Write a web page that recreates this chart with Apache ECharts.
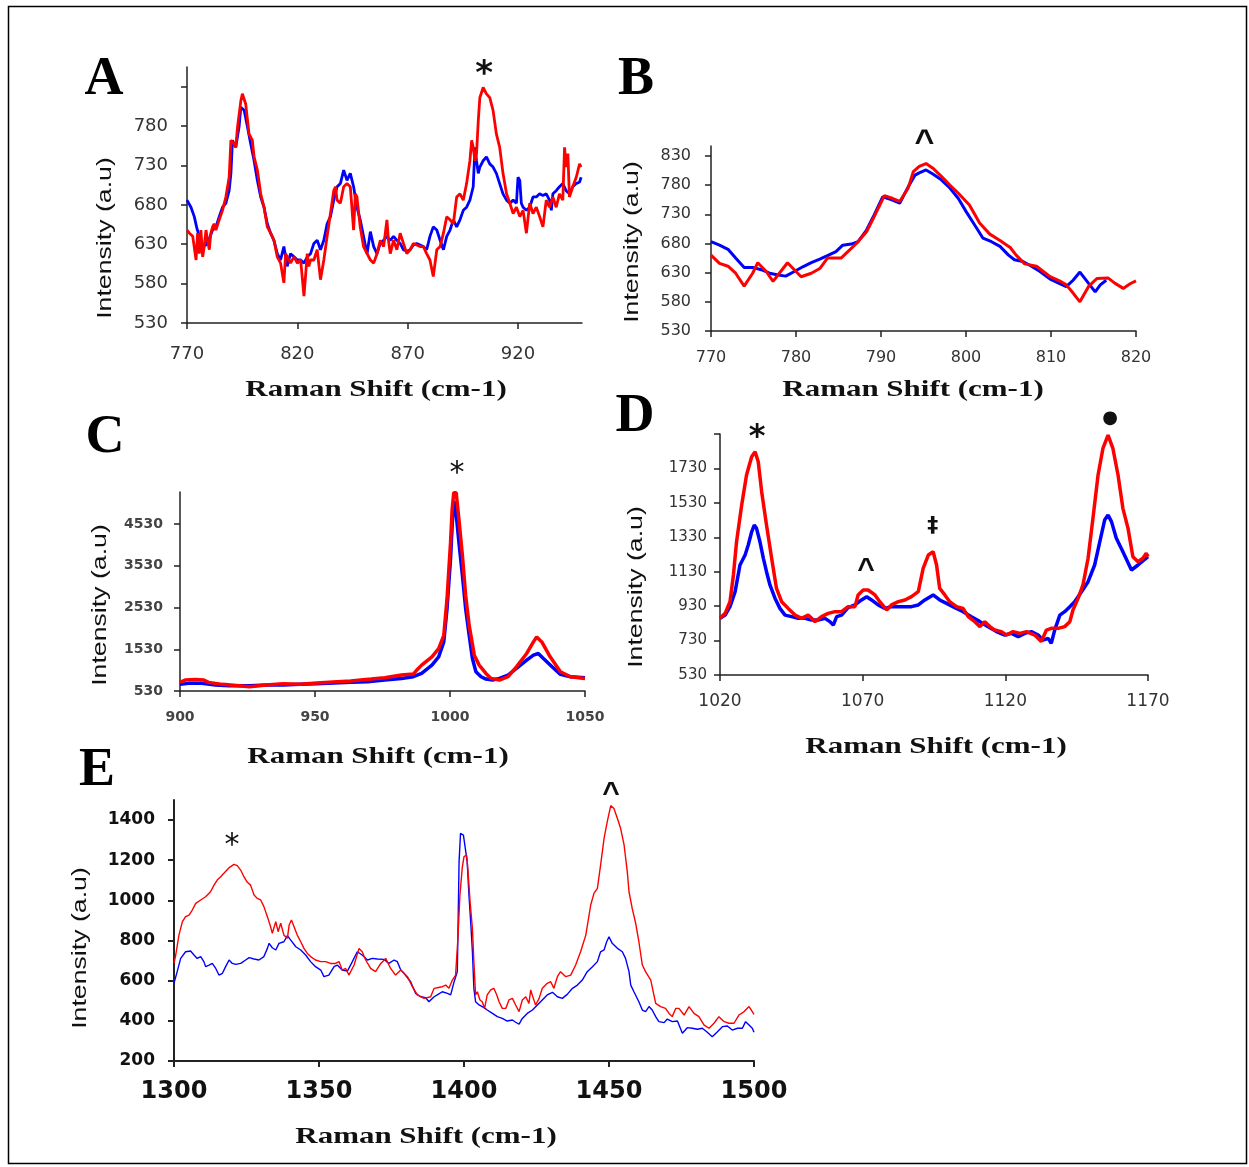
<!DOCTYPE html>
<html><head><meta charset="utf-8">
<script src="https://cdn.jsdelivr.net/npm/echarts/dist/echarts.min.js"></script>
<style>html,body{margin:0;padding:0;background:#fff}#c{width:1249px;height:1167px}</style>
</head><body><div id="c"></div><script>
// ---------- DATA (Raman shift cm-1, intensity a.u.) ----------
const aBlue=[[770,686],[771.8,677],[773.3,665],[774.5,650],[775.6,640],[777.1,627],[778.6,629],[780.1,637],[781.6,648],[783.1,652],[784.6,665],[786.1,677],[787.6,682],[789.1,698],[789.9,720],[790.6,762],[792.1,753],[793.6,779],[794.4,804],[795.9,800],[797.4,779],[798.9,757],[800.4,736],[801.9,711],[803.4,690],[804.9,677],[806.4,656],[807.9,644],[809.4,635],[810.9,618],[812.4,610],[813.9,627],[815.4,602],[816.9,618],[818.5,614],[820,610],[821.5,610],[823,606],[824.5,614],[826,618],[827.5,631],[829,635],[830.5,623],[832,635],[833.5,656],[835,665],[836.5,686],[838,703],[839.5,707],[841,724],[842.5,711],[844,720],[845.5,703],[847,677],[848.5,661],[850,640],[851.6,618],[853.1,646],[854.6,627],[856.1,618],[857.6,631],[859.1,635],[860.6,640],[862.1,635],[863.6,640],[865.1,635],[866.6,631],[868.1,623],[869.6,621],[871.1,623],[872.6,629],[874.1,631],[875.6,629],[877.1,627],[878.6,623],[880.1,640],[881.6,652],[883.2,648],[884.7,635],[886.2,623],[887.7,640],[889.2,648],[890.7,661],[892.2,652],[893.7,661],[895.2,673],[896.7,677],[898.2,686],[899.7,703],[900.5,753],[901.2,736],[902,720],[902.7,728],[904.2,736],[905.7,741],[907.2,732],[908.7,728],[910.2,720],[911.7,707],[913.2,694],[914.8,686],[916.3,682],[917.8,686],[919.3,682],[920,715],[920.8,711],[921.5,682],[922.3,677],[923.8,673],[925.3,677],[926.8,690],[928.3,690],[929.8,694],[931.3,692],[932.8,694],[934.3,686],[935.1,673],[935.8,694],[937.3,698],[938.8,703],[940.3,707],[941.8,698],[943.3,694],[944.8,703],[946.4,707],[947.9,709],[948.6,715]];
const aRed=[[770,648],[771.1,644],[772.6,640],[774.1,610],[774.8,644],[775.6,618],[776.3,648],[777.1,614],[777.8,627],[778.6,648],[779.3,635],[780.1,623],[780.8,644],[781.6,652],[782.3,656],[783.1,648],[784.6,661],[786.1,673],[787.6,690],[789.1,715],[789.9,762],[791.4,757],[792.1,753],[792.9,779],[794.4,812],[795.1,821],[796.6,808],[798.1,770],[799.6,762],[800.4,741],[801.9,724],[803.4,694],[804.9,677],[806.4,652],[807.9,644],[809.4,635],[810.9,614],[812.4,606],[813.9,581],[814.7,618],[815.4,614],[816.9,606],[818.5,614],[820,606],[821.5,610],[823,564],[824.5,618],[825.2,602],[826,610],[827.5,610],[829,623],[830.5,585],[832,610],[833.5,640],[835,669],[836.5,698],[837.3,703],[838,686],[839.5,682],[841,703],[842.5,707],[844,703],[845.5,648],[846.3,694],[847,690],[848.5,652],[850,627],[851.6,618],[853.1,610],[854.6,606],[856.1,618],[857.6,635],[859.1,627],[860.6,661],[861.3,635],[862.1,618],[863.6,635],[865.1,623],[866.6,644],[868.1,631],[869.6,618],[871.1,623],[872.6,631],[874.1,629],[875.6,627],[877.1,627],[878.6,618],[880.1,610],[881.6,589],[883.2,623],[884.7,627],[886.2,644],[887.7,665],[889.2,661],[890.7,656],[892.2,690],[893.7,694],[895.2,686],[896.7,707],[898.2,736],[899,762],[899.7,753],[900.5,736],[901.2,745],[902,787],[902.7,816],[904.2,829],[905.7,821],[907.2,816],[908.7,800],[910.2,770],[911.7,753],[913.2,720],[914.8,694],[916.3,682],[917.8,669],[919.3,677],[920.8,665],[922.3,673],[923.8,644],[925.3,682],[926.8,669],[928.3,677],[929.8,665],[931.3,652],[932.8,686],[934.3,677],[935.8,690],[937.3,677],[938.8,694],[940.3,686],[941.1,753],[941.8,728],[942.6,745],[943.3,690],[944.8,703],[946.4,715],[947.9,732],[948.6,728]];
const bBlue=[[770,683],[771,677],[772,670],[772.9,655],[773.9,639],[774.9,639],[775.9,635],[776.9,629],[777.9,626],[778.8,624],[779.8,632],[780.8,640],[781.8,647],[782.8,653],[783.7,659],[784.7,666],[785.5,677],[786.5,679],[787.3,683],[788.3,703],[789.2,729],[790.2,760],[791.2,755],[792.2,749],[793.2,777],[794,797],[794.5,801],[795.3,806],[796.1,799],[797.1,789],[798.1,775],[799.1,757],[800,735],[801,712],[802,689],[803,683],[804,675],[805,660],[805.7,652],[806.7,649],[807.7,641],[808.7,632],[809.9,619],[810.9,612],[811.8,606],[812.6,617],[813.4,631],[814.4,612],[815.2,597],[815.8,609],[816.5,617]];
const bRed=[[770,660],[771,646],[772,641],[772.9,629],[773.9,607],[774.9,629],[775.5,647],[776.5,632],[777.3,615],[778.2,632],[779,647],[779.8,635],[780.6,623],[781.8,629],[782.8,637],[783.7,655],[785.3,655],[786.1,666],[787.1,680],[788.3,700],[789.2,726],[790.4,762],[791.4,757],[792.2,752],[793.2,775],[793.8,803],[794.5,812],[795.3,817],[796.1,809],[797.1,795],[798.1,780],[799.1,766],[800.4,746],[801.6,715],[802.8,696],[804,685],[805.2,673],[805.9,660],[806.9,645],[808.3,641],[809.9,623],[811,616],[811.8,609],[812.6,595],[813.4,580],[814.4,606],[815.4,620],[816.7,621],[817.5,612],[818.5,603],[819.3,611],[820,616]];
const cBlue=[[900,689],[903.1,713],[908.1,713],[913.1,673],[918.2,657],[925.7,657],[931.9,673],[938.2,673],[944.5,689],[950.7,705],[957,721],[963.2,737],[969.5,753],[975.8,792],[982,832],[986.4,872],[989.5,951],[993.3,1150],[995.8,1349],[997.7,1707],[998.9,2502],[1000.2,3695],[1000.8,4490],[1001.4,5087],[1002.1,4888],[1003.3,4092],[1004.6,3297],[1005.8,2502],[1007.1,1866],[1008.3,1309],[1009.6,991],[1011.5,872],[1013.3,816],[1015.8,792],[1018.3,832],[1021.5,912],[1024.6,1071],[1028.4,1270],[1030.9,1389],[1032.7,1429],[1034.6,1309],[1037.8,1110],[1040.9,928],[1044.6,872],[1050,848]];
const cRed=[[900,737],[901.9,792],[905.6,808],[908.8,792],[910.6,737],[915.7,689],[921.9,657],[925.7,633],[931.9,673],[938.2,705],[944.5,689],[950.7,721],[958.2,753],[963.2,769],[970.8,816],[975.8,848],[982,912],[986.4,936],[987.7,1031],[989.5,1150],[993.3,1349],[995.8,1548],[997.7,1866],[998.9,2741],[1000.2,4092],[1000.8,4888],[1001.4,5285],[1002.3,5285],[1003.3,4649],[1004.6,3774],[1005.8,2820],[1007.1,2104],[1009,1389],[1010.8,1150],[1013.3,951],[1015.2,832],[1018.3,792],[1021.5,872],[1024.6,1110],[1028.4,1429],[1030.9,1707],[1032.1,1826],[1034,1707],[1037.1,1349],[1040.9,991],[1044.6,872],[1050,832]];
const dBlue=[[1020,859],[1021.8,878],[1023.5,927],[1025.3,1014],[1027,1169],[1028.8,1227],[1029.9,1285],[1031.1,1362],[1032,1401],[1032.8,1382],[1034,1304],[1035.2,1208],[1036.3,1130],[1037.5,1053],[1039.3,975],[1041,917],[1042.8,878],[1045.1,869],[1047.4,859],[1049.8,859],[1052.1,849],[1054.4,849],[1056.8,859],[1058.5,840],[1059.7,820],[1060.9,869],[1062.6,878],[1064.9,921],[1067.3,937],[1069.6,966],[1071.4,985],[1073.1,966],[1075.4,937],[1077.8,917],[1080.1,927],[1082.5,927],[1084.8,927],[1087.1,927],[1089.5,937],[1091.8,966],[1094.7,995],[1097,966],[1099.4,946],[1102.3,921],[1105.2,898],[1108.1,869],[1111.1,840],[1114,811],[1116.9,782],[1119.8,762],[1122.1,772],[1124.5,753],[1126.8,772],[1129.1,782],[1131.5,762],[1133.2,733],[1135,743],[1136.1,714],[1137.3,791],[1139.1,878],[1140.8,898],[1142.6,927],[1144.3,956],[1146.7,1014],[1149,1072],[1151.3,1169],[1153.1,1304],[1154.8,1430],[1156,1459],[1157.2,1421],[1158.9,1324],[1161.2,1246],[1164.2,1140],[1166.5,1169],[1170,1217]];
const dRed=[[1020,859],[1021.8,888],[1023.5,956],[1024.7,1111],[1025.8,1304],[1027.6,1517],[1029.3,1692],[1031.1,1798],[1032.3,1827],[1033.4,1769],[1034.6,1595],[1036.3,1401],[1038.1,1208],[1039.8,1033],[1041.6,956],[1043.9,917],[1046.3,878],[1048.6,859],[1050.9,878],[1053.3,840],[1055.6,869],[1057.9,888],[1060.3,898],[1062.6,898],[1064.9,927],[1067.3,927],[1068.4,995],[1070.2,1024],[1071.9,1024],[1074.3,995],[1076,956],[1078.4,908],[1080.1,937],[1082.5,956],[1084.8,966],[1087.1,985],[1089.5,1014],[1091.2,1150],[1093,1227],[1094.7,1246],[1095.9,1169],[1097,1033],[1098.8,995],[1100.5,956],[1102.9,927],[1105.2,917],[1107,869],[1109.3,840],[1111.1,811],[1112.8,840],[1114.6,811],[1116.3,791],[1118.6,782],[1120.4,762],[1122.7,782],[1125.1,772],[1127.4,782],[1130.3,762],[1132.6,724],[1134.4,791],[1136.1,801],[1138.5,801],[1140.8,811],[1142.6,840],[1143.7,908],[1145.5,975],[1147.2,1053],[1149,1208],[1150.7,1440],[1152.5,1692],[1154.2,1846],[1156,1924],[1157.7,1846],[1159.5,1692],[1161.2,1498],[1163,1382],[1164.7,1217],[1166.5,1188],[1168.2,1208],[1169.4,1237],[1170,1217]];
const eBlue=[[1300,587],[1301.1,645],[1302.3,711],[1304,744],[1305.7,748],[1306.9,728],[1308,711],[1309.2,720],[1310.3,695],[1310.9,670],[1312.1,678],[1313.2,686],[1314.4,661],[1315.5,628],[1316.7,637],[1317.8,670],[1319,703],[1320.1,686],[1321.3,681],[1323,686],[1324.7,703],[1325.9,715],[1327.6,708],[1329.3,703],[1331,720],[1332.2,761],[1332.8,786],[1333.9,764],[1335.1,753],[1336.2,786],[1337.9,794],[1339.1,824],[1340.2,803],[1342,769],[1343.7,753],[1345.4,728],[1347.1,695],[1348.8,670],[1350.6,653],[1351.7,620],[1353.4,628],[1355.2,670],[1356.3,678],[1358,653],[1359.8,648],[1361.5,695],[1363.2,744],[1364.9,728],[1366.7,703],[1368.4,711],[1370.1,708],[1372.4,706],[1374.1,686],[1375.9,703],[1377,695],[1378.2,653],[1379.3,637],[1381.6,595],[1383.3,537],[1385.1,520],[1386.8,515],[1387.9,495],[1389.7,520],[1390.8,529],[1392.5,545],[1394.3,537],[1395.4,529],[1396.6,595],[1397.7,645],[1398.3,1193],[1398.8,1334],[1399.8,1325],[1401.1,1193],[1401.7,1027],[1402.3,894],[1402.9,744],[1403.4,562],[1404,495],[1405.2,479],[1406.9,466],[1408,454],[1409.8,437],[1411.5,421],[1413.2,412],[1414.9,399],[1416.7,404],[1417.8,393],[1419,384],[1420.1,412],[1421.8,437],[1423.6,454],[1425.3,479],[1427,504],[1428.7,529],[1430.5,542],[1432.2,520],[1433.9,512],[1435.6,532],[1437.4,562],[1439.1,578],[1440.8,603],[1442.5,645],[1444.3,670],[1446,695],[1447.1,744],[1448.3,753],[1449.2,794],[1450,819],[1451.1,786],[1452.9,761],[1454.6,744],[1455.7,711],[1456.9,645],[1457.5,578],[1458.6,545],[1460.3,495],[1461.5,454],[1462.6,446],[1463.8,471],[1464.9,454],[1466.1,421],[1467.2,396],[1469,391],[1470.1,409],[1471.8,396],[1473.6,399],[1475.3,338],[1477,366],[1478.7,363],[1480.5,358],[1482.2,363],[1483.9,343],[1485.6,321],[1487.4,346],[1489.1,371],[1490.8,374],[1492.5,354],[1494.3,363],[1496,363],[1497.1,396],[1498.3,379],[1499.4,363],[1500,343]];
const eRed=[[1300,686],[1300.6,728],[1301.7,827],[1302.9,894],[1304,919],[1305.2,927],[1306.3,952],[1307.5,985],[1309.2,1002],[1310.9,1018],[1312.6,1043],[1313.8,1076],[1314.9,1101],[1316.1,1118],[1317.2,1135],[1319,1163],[1320.7,1179],[1321.8,1173],[1323,1151],[1324.1,1118],[1325.3,1090],[1326.4,1076],[1327.6,1027],[1328.7,1010],[1329.9,1002],[1331,969],[1332.2,919],[1333.3,869],[1333.9,836],[1335.1,894],[1335.9,844],[1336.8,886],[1337.9,827],[1339.1,811],[1339.7,877],[1340.5,902],[1341.4,869],[1342.5,827],[1343.7,794],[1344.8,761],[1346,736],[1347.1,720],[1348.8,703],[1350.6,695],[1352.3,695],[1354,686],[1355.7,686],[1356.9,695],[1358,653],[1359.2,661],[1360.3,628],[1362.1,678],[1363.8,761],[1364.9,744],[1366.1,703],[1367.8,661],[1369.5,645],[1371.3,686],[1373,711],[1374.7,661],[1376.4,628],[1378.2,653],[1380.5,620],[1382.2,570],[1383.9,529],[1386.2,512],[1388.5,520],[1389.7,562],[1390.8,565],[1392.5,570],[1393.7,578],[1394.8,562],[1396,603],[1397.1,628],[1397.9,811],[1398.6,1027],[1399.4,1163],[1400,1218],[1400.9,1226],[1401.4,1143],[1402.1,993],[1402.9,861],[1403.4,695],[1404,529],[1404.6,545],[1405.5,504],[1406.3,495],[1407.1,462],[1408,529],[1409.2,554],[1410.3,562],[1411.3,529],[1412.1,495],[1413.2,462],[1414.4,462],[1415.5,504],[1416.7,512],[1417.8,479],[1419,446],[1420.1,504],[1421.3,520],[1422.4,487],[1423,554],[1423.9,512],[1424.7,479],[1425.9,512],[1427,562],[1428.7,587],[1429.9,595],[1431,562],[1432.2,620],[1433.3,645],[1435.1,620],[1436.8,628],[1438.5,678],[1440.2,744],[1442,827],[1443.7,977],[1444.8,1035],[1446,1060],[1447.1,1176],[1448.3,1309],[1449.4,1392],[1450.6,1472],[1451.7,1458],[1452.9,1408],[1454,1359],[1455.2,1276],[1456.3,1143],[1456.9,1043],[1458,960],[1459.2,886],[1460.3,794],[1461.5,678],[1462.6,645],[1464.4,603],[1466.1,487],[1467.8,471],[1469.5,462],[1470.7,437],[1471.8,421],[1473,462],[1474.1,462],[1475.9,429],[1477.6,471],[1479.3,437],[1481,421],[1482.8,379],[1484.5,363],[1486.2,388],[1487.9,421],[1489.7,396],[1491.4,388],[1493.1,388],[1494.8,429],[1496.6,446],[1498.3,471],[1499.4,446],[1500,432]];

// tick labels (and tick marks where they differ)
const aXTicks=[770,820,870,920], aYTicks=[530,580,630,680,730,780], aYMarks=[530,580,630,680,730,780,830];
const bXTicks=[770,780,790,800,810,820], bYTicks=[530,580,630,680,730,780,830];
const cXTicks=[900,950,1000,1050], cYTicks=[530,1530,2530,3530,4530];
const dXTicks=[1020,1070,1120,1170], dYTicks=[530,730,930,1130,1330,1530,1730], dYMarks=[530,730,930,1130,1330,1530,1730,1930];
const eXTicks=[1300,1350,1400,1450,1500], eYTicks=[200,400,600,800,1000,1200,1400];

// panel letters, titles and peak markers
const panelLetters=['A','B','C','D','E'];
const xTitle='Raman Shift (cm-1)';
const yTitle='Intensity (a.u)';
const markers=[[0,904.6,853.7,'*'],[1,795.1,869,'^'],[2,1002.6,5875,'*'],[3,1033.0,1942,'*'],[3,1071.2,1186,'^'],[3,1094.6,1396,'‡'],[3,1156.7,2023,'●'],[4,1320,1301,'*'],[4,1450.7,1570,'^']];

// ---------- LAYOUT / STYLE ----------
const P=[
 {grid:{left:187,top:67,width:395,height:256},xr:[770,949,50],yr:[530,855,50],xt:aXTicks,yt:aYTicks,ym:aYMarks,s:[aBlue,aRed],lw:2.8,aw:1.5,xl:{fontSize:18,margin:22},yl:{fontSize:18,margin:19},lc:'#333',bold:'normal'},
 {grid:{left:711,top:146,width:425,height:185},xr:[770,820,10],yr:[530,847,50],xt:bXTicks,yt:bYTicks,ym:bYTicks,s:[bBlue,bRed],lw:3,aw:1.5,xl:{fontSize:16,margin:19},yl:{fontSize:16,margin:20},lc:'#333',bold:'normal'},
 {grid:{left:180,top:492,width:405,height:199},xr:[900,1050,50],yr:[530,5300,1000],xt:cXTicks,yt:cYTicks,ym:cYTicks,s:[cBlue,cRed],lw:3.5,aw:1.5,xl:{fontSize:14,margin:19},yl:{fontSize:14,margin:17},lc:'#444',bold:'bold'},
 {grid:{left:720,top:434,width:428,height:241},xr:[1020,1170,50],yr:[530,1930,200],xt:dXTicks,yt:dYTicks,ym:dYMarks,s:[dBlue,dRed],lw:3.5,aw:1.5,xl:{fontSize:17,margin:18},yl:{fontSize:15,margin:13},lc:'#333',bold:'normal'},
 {grid:{left:174,top:800,width:580,height:261},xr:[1300,1500,50],yr:[200,1500,200],xt:eXTicks,yt:eYTicks,ym:eYTicks,s:[eBlue,eRed],lw:1.4,aw:2,xl:{fontSize:24,margin:19},yl:{fontSize:17,margin:19},lc:'#111',bold:'bold'}
];
const xTitlePos=[[376,390],[913,390],[378,757],[936,747],[426,1137]];
const yTitlePos=[[105,238],[632,242],[100,605],[636,587],[80,948]];
const letterPos=[[104,80],[636,80],[105,438],[635,417],[97,771]];
const markerFont=['bold 34px "DejaVu Sans"','bold 34px "Liberation Sans"','30px "DejaVu Sans"','bold 32px "DejaVu Sans"','bold 30px "Liberation Sans"','bold 22px "DejaVu Sans"','18px "DejaVu Sans"','30px "DejaVu Sans"','bold 30px "Liberation Sans"'];
const markerDy=[7,9,6,6,8,0,0,6,8];

const axisCommon=(p,labels,marks,range,lab)=>({
  type:'value',min:range[0],max:range[1],interval:range[2],
  axisLine:{show:true,onZero:false,lineStyle:{color:'#222',width:p.aw}},
  axisTick:{show:true,inside:false,length:6,customValues:marks,lineStyle:{color:'#222',width:p.aw}},
  axisLabel:{customValues:labels,formatter:v=>labels.indexOf(v)>=0?String(v):'',fontFamily:'DejaVu Sans',fontSize:lab.fontSize,fontWeight:p.bold,color:p.lc,margin:lab.margin},
  splitLine:{show:false}
});

const option={
  animation:false,
  backgroundColor:'#fff',
  grid:P.map(p=>Object.assign({containLabel:false},p.grid)),
  xAxis:P.map((p,i)=>Object.assign({gridIndex:i},axisCommon(p,p.xt,p.xt,p.xr,p.xl))),
  yAxis:P.map((p,i)=>Object.assign({gridIndex:i},axisCommon(p,p.yt,p.ym,p.yr,p.yl))),
  series:[]
};
P.forEach((p,i)=>{
  ['#0000FF','#FF0000'].forEach((col,k)=>{
    option.series.push({type:'line',xAxisIndex:i,yAxisIndex:i,data:p.s[k],showSymbol:false,symbol:'none',
      lineStyle:{color:col,width:p.lw},itemStyle:{color:col},z:2+k});
  });
});

const chart=echarts.init(document.getElementById('c'));
chart.setOption(option);

const g=[];
g.push({type:'rect',silent:true,z:100,shape:{x:8.5,y:6.5,width:1238,height:1157},style:{fill:'transparent',stroke:'#000',lineWidth:1.5}});
P.forEach((p,i)=>{
  g.push({type:'text',silent:true,z:100,x:xTitlePos[i][0],y:xTitlePos[i][1],scaleX:1.29,
    style:{text:xTitle,font:'bold 24px "Liberation Serif"',fill:'#111',align:'center',verticalAlign:'middle',textAlign:'center',textVerticalAlign:'middle'}});
  g.push({type:'text',silent:true,z:100,x:yTitlePos[i][0],y:yTitlePos[i][1],rotation:Math.PI/2,scaleX:1.27,
    style:{text:yTitle,font:'21px "Liberation Sans"',fill:'#111',align:'center',verticalAlign:'middle',textAlign:'center',textVerticalAlign:'middle'}});
  g.push({type:'text',silent:true,z:100,x:letterPos[i][0],y:letterPos[i][1],
    style:{text:panelLetters[i],font:'bold 54px "Liberation Serif"',fill:'#000',align:'center',verticalAlign:'middle',textAlign:'center',textVerticalAlign:'middle'}});
});
markers.forEach((m,j)=>{
  const pt=chart.convertToPixel({gridIndex:m[0]},[m[1],m[2]]);
  g.push({type:'text',silent:true,z:100,x:pt[0],y:pt[1]+markerDy[j],
    style:{text:m[3],font:markerFont[j],fill:'#111',align:'center',verticalAlign:'middle',textAlign:'center',textVerticalAlign:'middle'}});
});
chart.setOption({graphic:g});
</script></body></html>
